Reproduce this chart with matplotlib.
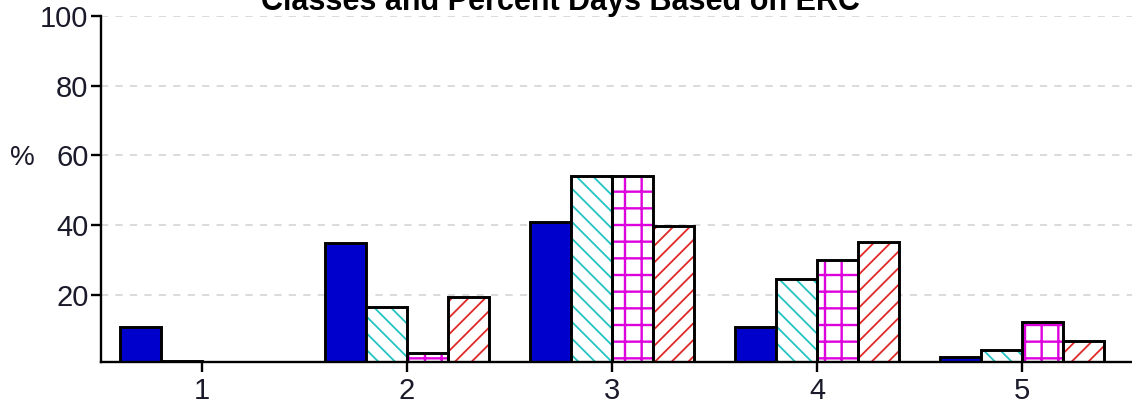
"""Percent of days in each ERC class, four series side by side."""

import matplotlib

matplotlib.use("Agg")

import matplotlib.pyplot as plt
import numpy as np

classes = [1, 2, 3, 4, 5]
series_blue = [11.0, 35.0, 41.0, 11.0, 2.2]
series_cyan = [1.2, 16.6, 54.2, 24.7, 4.2]
series_magenta = [0.0, 3.4, 54.2, 30.1, 12.4]
series_red = [0.0, 19.4, 39.8, 35.1, 6.9]

title = "Classes and Percent Days Based on ERC"

plt.rcParams["font.family"] = ["Liberation Sans", "DejaVu Sans"]

fig = plt.figure(figsize=(11.32, 4.08), dpi=100)
ax = fig.add_axes([101 / 1132, 1 - 362 / 408, 1 - 101 / 1132, (362 - 15.7) / 408])

x = np.asarray(classes, dtype=float)
w = 0.2
edge_lw = 2.1

# solid blue series
ax.bar(x - 1.5 * w, series_blue, w, color="#0000CD", edgecolor="black",
       linewidth=edge_lw, zorder=3)

# hatched series: hatch layer in its own colour, black outline on top
hatched = [
    (series_cyan, -0.5, "#22C4C4", "\\\\", 1.3),
    (series_magenta, 0.5, "#DD00DD", "+", 1.7),
    (series_red, 1.5, "#E02828", "//", 1.3),
]
for vals, off, col, hatch, hlw in hatched:
    with plt.rc_context({"hatch.linewidth": hlw}):
        bars = ax.bar(x + off * w, vals, w, color="white", edgecolor=col,
                      hatch=hatch, linewidth=0, zorder=3)
    for b in bars:
        if hasattr(b, "set_hatch_linewidth"):
            b.set_hatch_linewidth(hlw)
    ax.bar(x + off * w, vals, w, color="none", edgecolor="black",
           linewidth=edge_lw, zorder=4)

ax.set_xlim(0.507, 5.537)
ax.set_ylim(0.9, 100)
ax.set_xticks(classes)
ax.set_yticks([20, 40, 60, 80, 100])
ax.yaxis.grid(True, linestyle=(0, (4, 4)), color="#d8d8d8", linewidth=1.3, zorder=0)

for side in ("top", "right"):
    ax.spines[side].set_visible(False)
for side in ("left", "bottom"):
    ax.spines[side].set_linewidth(1.7)
ax.spines["bottom"].set_zorder(5)

ax.tick_params(axis="both", length=7, width=1.7, labelsize=21,
               colors="black", labelcolor="#1a1a2a", pad=4)
ax.tick_params(axis="y", pad=2)

fig.text(22 / 1132, 1 - 158 / 408, "%", fontsize=20, color="#1a1a2a",
         ha="center", va="center")
fig.text(560 / 1132, 1 - 10 / 408, title, fontsize=22, fontweight="bold",
         ha="center", va="baseline")

fig.savefig("out.png", dpi=100)
